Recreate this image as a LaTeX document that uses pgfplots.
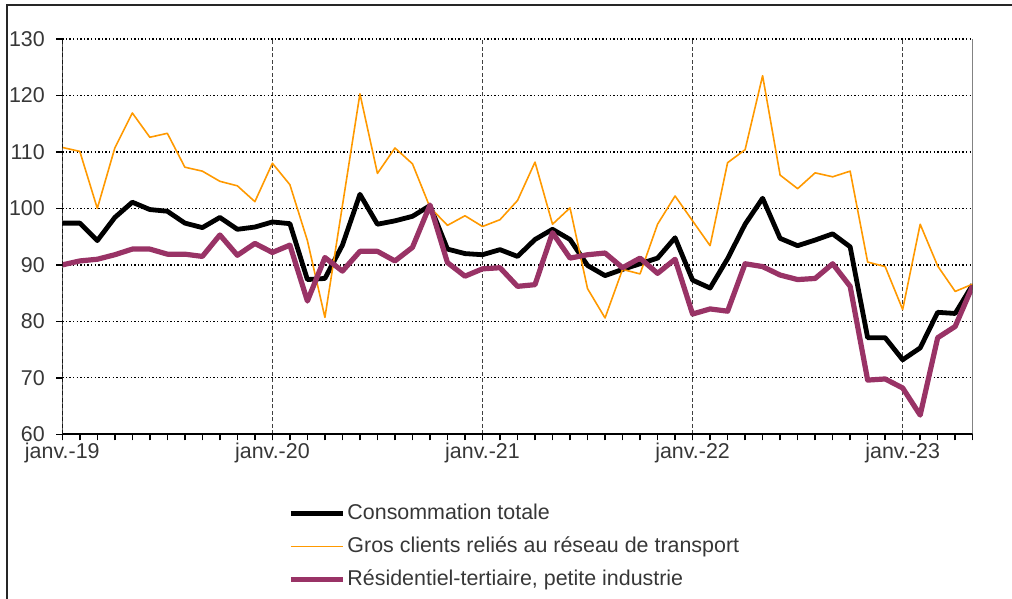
\documentclass[border=0pt]{standalone}
\usepackage{fontspec}
\setmainfont{Liberation Sans}
\usepackage{pgfplots}
\usepackage{pgfplotstable}
\pgfplotsset{compat=1.18}
\definecolor{gcorange}{RGB}{255,153,0}
\definecolor{rtpurple}{RGB}{153,51,102}
\definecolor{txt}{RGB}{55,55,55}

\pgfplotstableread{
i tot gc rt
0 97.4 110.8 90.0
1 97.4 110.1 90.7
2 94.3 100.0 91.0
3 98.4 110.7 91.8
4 101.1 116.9 92.8
5 99.8 112.6 92.8
6 99.5 113.3 91.9
7 97.4 107.3 91.9
8 96.6 106.6 91.5
9 98.4 104.8 95.3
10 96.3 104.0 91.7
11 96.7 101.2 93.8
12 97.6 108.0 92.2
13 97.3 104.2 93.5
14 87.4 94.3 83.6
15 87.6 80.7 91.3
16 93.5 100.5 88.9
17 102.5 120.3 92.4
18 97.2 106.2 92.4
19 97.8 110.7 90.7
20 98.6 107.9 93.1
21 100.5 100.2 100.6
22 92.8 97.0 90.4
23 92.0 98.7 88.0
24 91.8 96.8 89.3
25 92.7 98.0 89.5
26 91.5 101.4 86.2
27 94.5 108.2 86.5
28 96.3 97.2 95.7
29 94.5 100.1 91.2
30 89.9 85.8 91.8
31 88.1 80.6 92.1
32 89.2 89.2 89.5
33 90.2 88.4 91.2
34 91.2 97.2 88.5
35 94.8 102.2 91.0
36 87.3 97.8 81.3
37 85.9 93.4 82.2
38 91.1 108.1 81.8
39 97.2 110.4 90.2
40 101.8 123.5 89.7
41 94.7 105.9 88.2
42 93.4 103.5 87.4
43 94.4 106.3 87.6
44 95.5 105.6 90.2
45 93.2 106.6 86.2
46 77.1 90.5 69.6
47 77.1 89.7 69.8
48 73.2 82.1 68.2
49 75.3 97.2 63.4
50 81.6 89.8 77.1
51 81.4 85.3 79.1
52 86.5 86.6 86.3
}\datatable

\begin{document}
\begin{tikzpicture}
\path[use as bounding box] (-62.3bp,-164.7bp) rectangle (949.7bp,434.3bp);
\draw[line width=1.5bp, black!85] (-55.3bp,-175bp) -- (-55.3bp,429.3bp) -- (960bp,429.3bp);
\begin{axis}[
  at={(0pt,0pt)}, anchor=south west,
  scale only axis, width=910.4bp, height=395.3bp,
  xmin=0, xmax=52, ymin=60, ymax=130,
  axis line style={draw=none},
  tick align=outside,
  xtick pos=bottom, ytick pos=left,
  tick style={black, line width=1.4bp},
  major tick length=6bp, minor tick length=6bp,
  xtick={0,12,24,36,48},
  xticklabels={janv.-19,janv.-20,janv.-21,janv.-22,janv.-23},
  minor xtick={0,...,52},
  ytick={60,70,...,130},
  xmajorgrids, ymajorgrids,
  x grid style={black!75, line width=1.3bp, dash pattern=on 4bp off 2.5bp},
  y grid style={black, line width=1.3bp, dash pattern=on 1.4bp off 2.2bp},
  ticklabel style={font=\fontsize{21.5}{24}\selectfont, text=txt},
  yticklabel style={xshift=-8bp},
  xticklabel style={yshift=1bp},
  /pgf/number format/assume math mode=true,
  legend style={draw=none, fill=none, at={(axis description cs:0.248,-0.1586)},
    anchor=north west, font=\fontsize{21.5}{24}\selectfont, text=txt,
    row sep=0bp, inner sep=0pt,
    nodes={inner sep=2bp, text height=15.5bp, text depth=4.5bp, minimum height=33bp}},
  legend cell align=left,
  legend image code/.code={\draw[#1] (0bp,0bp) -- (52bp,0bp);},
]
\addplot[black, line width=4.8bp, line join=round] table[x=i, y=tot] {\datatable};
\addlegendentry{Consommation totale}
\addplot[gcorange, line width=1.6bp, line join=round] table[x=i, y=gc] {\datatable};
\addlegendentry{Gros clients reliés au réseau de transport}
\addplot[rtpurple, line width=5.2bp, line join=round] table[x=i, y=rt] {\datatable};
\addlegendentry{Résidentiel-tertiaire, petite industrie}
\draw[black, line width=2bp] (axis cs:0,130) -- (axis cs:0,60) -- (axis cs:52,60);
\draw[black!75, line width=1.4bp] (axis cs:52,60) -- (axis cs:52,130);
\end{axis}
\end{tikzpicture}
\end{document}
